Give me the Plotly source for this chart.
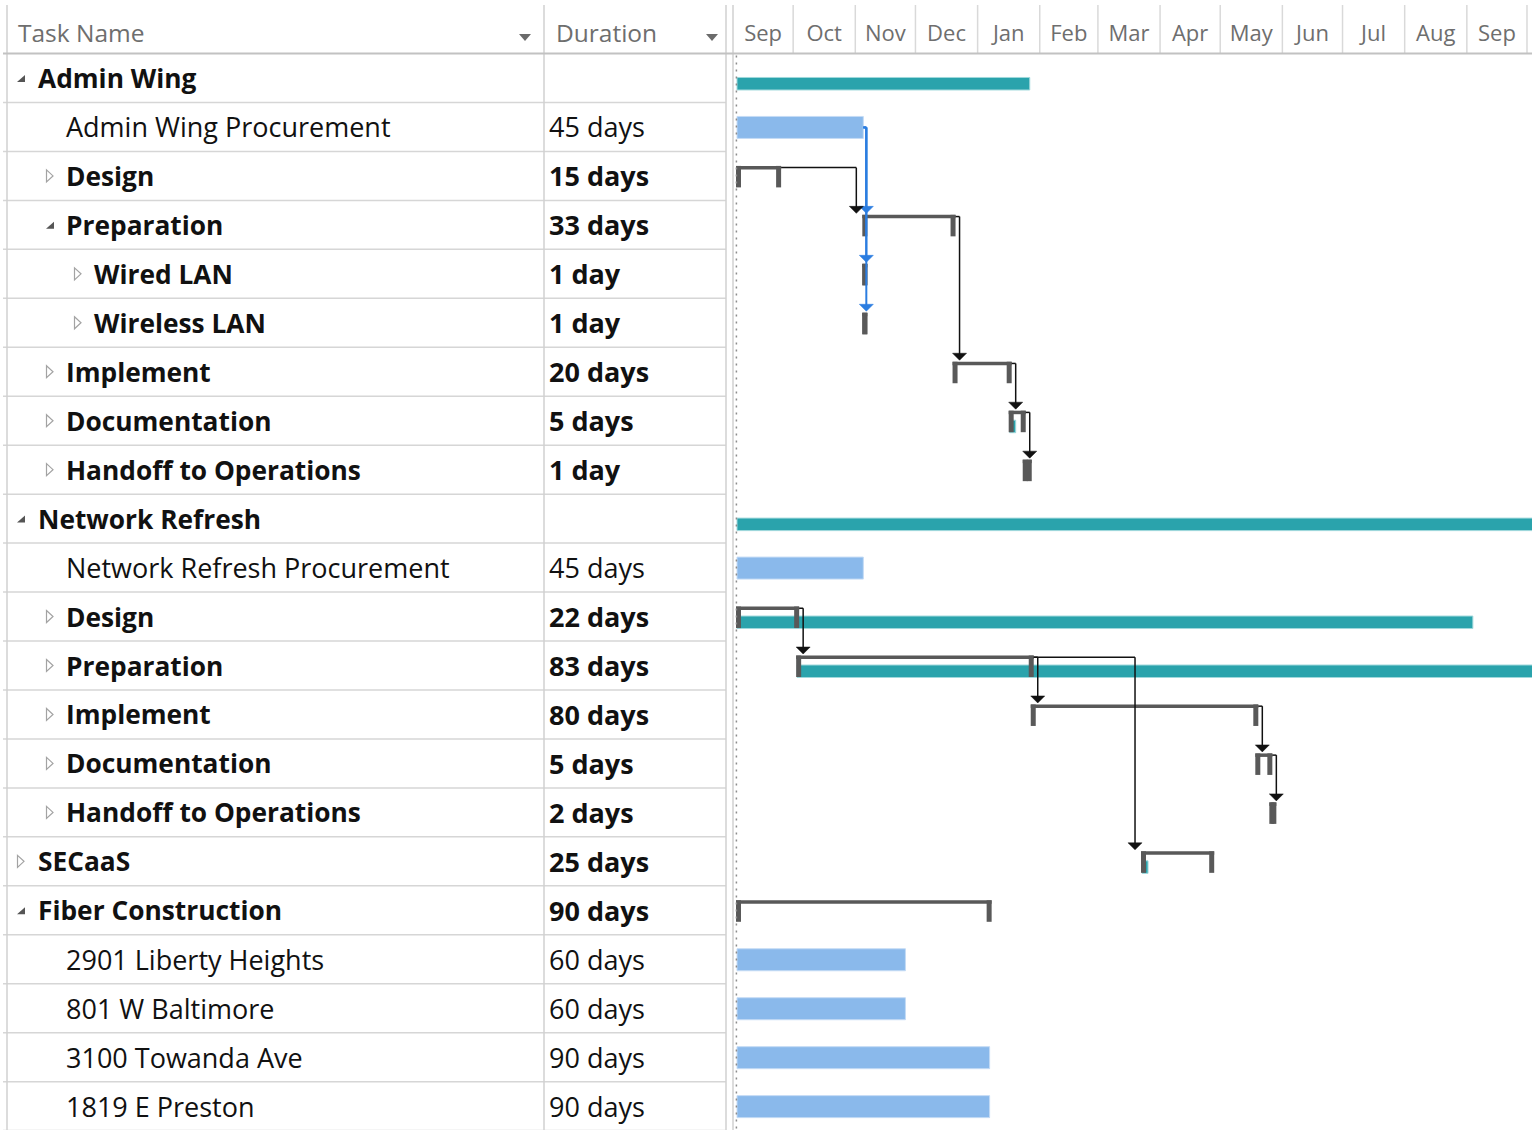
import numpy as np
import pandas as pd
import plotly.graph_objects as go

W, H = 1532, 1130

# ---------------- task table ----------------
task_names = [
    "Admin Wing", "Admin Wing Procurement", "Design", "Preparation", "Wired LAN",
    "Wireless LAN", "Implement", "Documentation", "Handoff to Operations",
    "Network Refresh", "Network Refresh Procurement", "Design", "Preparation",
    "Implement", "Documentation", "Handoff to Operations", "SECaaS",
    "Fiber Construction", "2901 Liberty Heights", "801 W Baltimore",
    "3100 Towanda Ave", "1819 E Preston",
]
outline_levels = [0, 1, 1, 1, 2, 2, 1, 1, 1, 0, 1, 1, 1, 1, 1, 1, 0, 0, 1, 1, 1, 1]
duration_days = [None, 45, 15, 33, 1, 1, 20, 5, 1, None, 45, 22, 83, 80, 5, 2, 25, 90,
                 60, 60, 90, 90]
bold_rows = [True, False, True, True, True, True, True, True, True, True, False, True,
             True, True, True, True, True, True, False, False, False, False]
outline_state = ["open", None, "closed", "open", "closed", "closed", "closed", "closed",
                 "closed", "open", None, "closed", "closed", "closed", "closed", "closed",
                 "closed", "open", None, None, None, None]
start_dates = [
    "2019-09-03", "2019-09-03", "2019-09-03", "2019-11-05", "2019-11-05", "2019-11-05",
    "2019-12-20", "2020-01-17", "2020-01-24", "2019-09-03", "2019-09-03", "2019-09-03",
    "2019-10-03", "2020-01-28", "2020-05-19", "2020-05-26", "2020-03-23", "2019-09-03",
    "2019-09-03", "2019-09-03", "2019-09-03", "2019-09-03",
]
# how each row is drawn on the chart: plain task bar, manual-summary bracket, or nothing
bar_kind = ["none", "task", "bracket", "bracket", "bracket", "bracket", "bracket",
            "bracket", "bracket", "none", "task", "bracket", "bracket", "bracket",
            "bracket", "bracket", "bracket", "bracket", "task", "task", "task", "task"]

# rolled-up summary spans (teal)
rollup_rows = [0, 7, 9, 11, 12, 16]
rollup_start = ["2019-09-03", "2020-01-17", "2019-09-03", "2019-09-03", "2019-10-03",
                "2020-03-23"]
rollup_finish = ["2020-01-27", "2020-01-20", "2021-01-29", "2020-09-04", "2021-01-29",
                 "2020-03-26"]

# finish-to-start dependencies
link_pred = [1, 1, 1, 2, 3, 6, 7, 11, 12, 12, 13, 14]
link_succ = [3, 4, 5, 3, 6, 7, 8, 12, 13, 16, 14, 15]
link_highlight = [True, True, True, False, False, False, False, False, False, False,
                  False, False]

# ---------------- scales ----------------
X_START = pd.Timestamp("2019-09-02")
X_END = pd.Timestamp("2020-10-03 12:00")
GANTT_LEFT = 735
PX_PER_DAY = (W - GANTT_LEFT) / ((X_END - X_START) / pd.Timedelta(days=1))

HEADER_BOTTOM = 53.5
ROW_PX = 48.96
Y_TOP = -HEADER_BOTTOM / ROW_PX - 0.5
Y_BOTTOM = (H - HEADER_BOTTOM) / ROW_PX - 0.5

FONT = "Open Sans"
BRACKET = "#595959"
TEAL = "#2aa3ac"
BLUE_BAR = "#8ab9eb"
LINK_BLUE = "#2b7de0"
GRID = "#d6d6d6"

starts = [pd.Timestamp(s) for s in start_dates]
finishes = [
    pd.Timestamp(np.busday_offset(np.datetime64(s.date()), d, roll="forward")) if d else None
    for s, d in zip(starts, duration_days)
]


def xoff(ts, px):
    return str(pd.Timestamp(ts) + pd.Timedelta(days=px / PX_PER_DAY))


def ry(k, px):
    return k + px / ROW_PX


def pxx(x):
    return x / W


def pxy(y):
    return 1 - y / H


fig = go.Figure()

# task bars
task_rows = [i for i, k in enumerate(bar_kind) if k == "task"]
fig.add_trace(go.Bar(
    orientation="h",
    y=task_rows,
    base=[str(starts[i]) for i in task_rows],
    x=[(finishes[i] - starts[i]) / pd.Timedelta(milliseconds=1) for i in task_rows],
    width=22 / ROW_PX, offset=-10.5 / ROW_PX,
    marker=dict(color=BLUE_BAR, line=dict(color="#c4dbf5", width=1)),
    hoverinfo="skip", showlegend=False,
))

# rollup bars
fig.add_trace(go.Bar(
    orientation="h",
    y=rollup_rows,
    base=rollup_start,
    x=[(pd.Timestamp(f) - pd.Timestamp(s)) / pd.Timedelta(milliseconds=1)
       for s, f in zip(rollup_start, rollup_finish)],
    width=12.5 / ROW_PX, offset=-0.5 / ROW_PX,
    marker=dict(color=TEAL, line=dict(color="#9fd8dc", width=1)),
    hoverinfo="skip", showlegend=False,
))

shapes = []

# brackets for manually scheduled summaries
for i, kind in enumerate(bar_kind):
    if kind != "bracket":
        continue
    s, f = starts[i], finishes[i]
    common = dict(type="rect", xref="x", yref="y", fillcolor=BRACKET, line=dict(width=0))
    shapes.append(dict(common, x0=xoff(s, -1), x1=xoff(f, 2), y0=ry(i, -10), y1=ry(i, -6.5)))
    shapes.append(dict(common, x0=xoff(s, -1), x1=xoff(s, 4), y0=ry(i, -10), y1=ry(i, 11.5)))
    shapes.append(dict(common, x0=xoff(f, -3), x1=xoff(f, 2), y0=ry(i, -10), y1=ry(i, 11.5)))

# dependency links
arrow_shapes = []
for p, s_row, hi in zip(link_pred, link_succ, link_highlight):
    col = LINK_BLUE if hi else "#111111"
    lw = 2 if hi else 1.5
    pf = finishes[p]
    if bar_kind[p] == "task":
        x_from, y_from = str(pf), ry(p, 0.5)
        drop_px = 3
    else:
        x_from, y_from = xoff(pf, 2), ry(p, -8.3)
        drop_px = 6
    gap_px = (starts[s_row] - pf) / pd.Timedelta(days=1) * PX_PER_DAY
    xd = xoff(starts[s_row], -7) if gap_px > 12 else xoff(pf, drop_px)
    shapes.append(dict(type="line", xref="x", yref="y", x0=x_from, x1=xd, y0=y_from,
                       y1=y_from, line=dict(color=col, width=lw)))
    shapes.append(dict(type="line", xref="x", yref="y", x0=xd, x1=xd, y0=y_from,
                       y1=ry(s_row, -15), line=dict(color=col, width=lw)))
    arrow_shapes.append(dict(type="path", xref="x", yref="y", xsizemode="pixel",
                             ysizemode="pixel", xanchor=xd, yanchor=ry(s_row, -11.5),
                             path="M -7,7 L 7,7 L 0,0 Z", fillcolor=col,
                             line=dict(color=col, width=0.5)))
shapes += arrow_shapes

# project start line
shapes.append(dict(type="line", xref="x", yref="paper", x0=xoff("2019-09-03", -0.6),
                   x1=xoff("2019-09-03", -0.6), y0=pxy(HEADER_BOTTOM + 2), y1=0,
                   line=dict(color="#8c8c8c", width=1.5, dash="2px,5px")))

# timescale separators
for m in pd.date_range("2019-10-01", "2020-10-01", freq="MS"):
    shapes.append(dict(type="line", xref="x", yref="paper", x0=str(m), x1=str(m),
                       y0=pxy(HEADER_BOTTOM), y1=pxy(5),
                       line=dict(color="#d9d9d9", width=1.5)))

# table grid
for k in range(len(task_names)):
    shapes.append(dict(type="line", xref="paper", yref="y", x0=pxx(3), x1=pxx(726),
                       y0=k + 0.5, y1=k + 0.5, line=dict(color=GRID, width=1.5)))
for x in [7, 544, 726, 733]:
    shapes.append(dict(type="line", xref="paper", yref="paper", x0=pxx(x), x1=pxx(x),
                       y0=pxy(5), y1=0, line=dict(color="#d0d0d0", width=1.5)))
shapes.append(dict(type="line", xref="paper", yref="paper", x0=pxx(3), x1=1,
                   y0=pxy(HEADER_BOTTOM), y1=pxy(HEADER_BOTTOM),
                   line=dict(color="#c2c2c2", width=2)))

# header drop-down arrows
for x in [519, 706]:
    shapes.append(dict(type="path", xref="paper", yref="paper", xsizemode="pixel",
                       ysizemode="pixel", xanchor=pxx(x), yanchor=pxy(34),
                       path="M 0,0 L 12,0 L 6,-7 Z", fillcolor="#6b6b6b",
                       line=dict(width=0)))

# outline toggles
LEVEL_TOGGLE_X = [17, 46, 74]
LEVEL_TEXT_X = [36, 64, 92]
for i, state in enumerate(outline_state):
    if state is None:
        continue
    x = LEVEL_TOGGLE_X[outline_levels[i]]
    if state == "open":
        shapes.append(dict(type="path", xref="paper", yref="y", xsizemode="pixel",
                           ysizemode="pixel", xanchor=pxx(x), yanchor=i,
                           path="M 8,3 L 8,-4 L 0,-4 Z", fillcolor="#555555",
                           line=dict(width=0)))
    else:
        shapes.append(dict(type="path", xref="paper", yref="y", xsizemode="pixel",
                           ysizemode="pixel", xanchor=pxx(x), yanchor=i,
                           path="M 0.5,6 L 7,0 L 0.5,-6 Z", fillcolor="white",
                           line=dict(color="#a3a3a3", width=1.2)))

annotations = []
for i, name in enumerate(task_names):
    if bold_rows[i]:
        txt, size = f"<b>{name}</b>", 26.3
    else:
        txt, size = name, 27
    annotations.append(dict(xref="paper", yref="y", x=pxx(LEVEL_TEXT_X[outline_levels[i]]),
                            y=i, text=txt, showarrow=False, xanchor="left",
                            yanchor="middle", font=dict(family=FONT, size=size, color="#111111")))
    d = duration_days[i]
    if d is not None:
        dtxt = f"{d} day" if d == 1 else f"{d} days"
        dtxt = f"<b>{dtxt}</b>" if bold_rows[i] else dtxt
        annotations.append(dict(xref="paper", yref="y", x=pxx(547), y=i, text=dtxt,
                                showarrow=False, xanchor="left", yanchor="middle",
                                font=dict(family=FONT, size=27, color="#111111")))

for label, x in [("Task Name", 16), ("Duration", 554)]:
    annotations.append(dict(xref="paper", yref="paper", x=pxx(x), y=pxy(33), text=label,
                            showarrow=False, xanchor="left", yanchor="middle",
                            font=dict(family=FONT, size=24.5, color="#6e6e6e")))

fig.update_layout(
    width=W, height=H,
    margin=dict(l=0, r=0, t=0, b=0),
    paper_bgcolor="white", plot_bgcolor="white",
    barmode="overlay",
    shapes=shapes,
    annotations=annotations,
    xaxis=dict(type="date", range=[str(X_START), str(X_END)], domain=[GANTT_LEFT / W, 1],
               side="top", anchor="free", position=pxy(45), ticklabelmode="period",
               dtick="M1", tick0="2019-09-01", tickformat="%b", ticks="",
               showgrid=False, zeroline=False, showline=False, fixedrange=True,
               tickfont=dict(family=FONT, size=22, color="#6e6e6e")),
    yaxis=dict(range=[Y_BOTTOM, Y_TOP], domain=[0, 1], visible=False, fixedrange=True),
    showlegend=False,
)

fig.write_html("out.html")
